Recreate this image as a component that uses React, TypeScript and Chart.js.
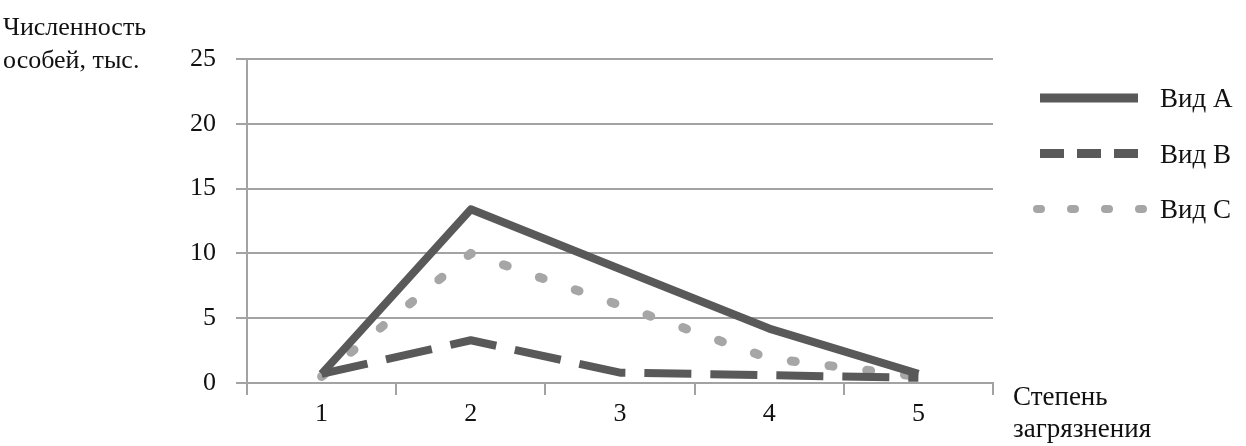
import React, { useEffect, useRef } from "react";
import { Chart, registerables } from "chart.js";

Chart.register(...registerables);

const categories = ["1", "2", "3", "4", "5"];
const seriesNames = ["Вид A", "Вид B", "Вид C"];
const valuesA = [0.7, 13.4, 8.8, 4.2, 0.7];
const valuesB = [0.7, 3.3, 0.8, 0.6, 0.4];
const valuesC = [0.5, 10.0, 6.0, 1.9, 0.5];
const yMin = 0;
const yMax = 25;
const yStep = 5;
const yTitleLines = ["Численность", "особей, тыс."];
const xTitleLines = ["Степень", "загрязнения"];

const FONT = '"Liberation Serif", "Times New Roman", serif';
const TEXT_COLOR = "#111111";
const GRID_COLOR = "#a3a3a3";
const DARK = "#595959";
const LIGHT = "#a6a6a6";

const titlesAndLegend = {
  id: "titlesAndLegend",
  afterDraw(chart: any) {
    const ctx = chart.ctx as CanvasRenderingContext2D;
    ctx.save();
    ctx.fillStyle = TEXT_COLOR;
    ctx.font = `26px ${FONT}`;
    ctx.textAlign = "left";
    ctx.textBaseline = "alphabetic";
    // y axis title
    yTitleLines.forEach((t, i) => ctx.fillText(t, 3, 35 + i * 33));
    // x axis title
    ctx.font = `27px ${FONT}`;
    xTitleLines.forEach((t, i) => ctx.fillText(t, 1013, 405 + i * 32));

    // legend
    const legendStyles = [
      { dash: [] as number[], cap: "butt" as CanvasLineCap, width: 9, x0: 1040, x1: 1138 },
      { dash: [24, 13], cap: "butt" as CanvasLineCap, width: 9, x0: 1040, x1: 1138 },
      { dash: [4, 30], cap: "round" as CanvasLineCap, width: 8, x0: 1037, x1: 1145 },
    ];
    chart.data.datasets.forEach((ds: any, i: number) => {
      const y = 98 + i * 55.5;
      const st = legendStyles[i];
      ctx.beginPath();
      ctx.strokeStyle = ds.borderColor;
      ctx.lineWidth = st.width;
      ctx.lineCap = st.cap;
      ctx.setLineDash(st.dash);
      ctx.moveTo(st.x0, y);
      ctx.lineTo(st.x1, y);
      ctx.stroke();
      ctx.setLineDash([]);
      ctx.fillStyle = TEXT_COLOR;
      ctx.font = `27px ${FONT}`;
      ctx.fillText(ds.label, 1160, y + 9);
    });
    ctx.restore();
  },
};

export default function App() {
  const canvasRef = useRef<HTMLCanvasElement | null>(null);

  useEffect(() => {
    if (!canvasRef.current) return;
    Chart.defaults.font.family = FONT;
    const chart = new Chart(canvasRef.current, {
      type: "line",
      data: {
        labels: categories,
        datasets: [
          {
            label: seriesNames[0],
            data: valuesA,
            borderColor: DARK,
            borderWidth: 8,
            borderJoinStyle: "round",
            borderCapStyle: "butt",
            pointRadius: 0,
            tension: 0,
          },
          {
            label: seriesNames[1],
            data: valuesB,
            borderColor: DARK,
            borderWidth: 8,
            borderDash: [47, 19],
            borderCapStyle: "butt",
            borderJoinStyle: "round",
            pointRadius: 0,
            tension: 0,
          },
          {
            label: seriesNames[2],
            data: valuesC,
            borderColor: LIGHT,
            borderWidth: 9,
            borderDash: [4, 34],
            borderCapStyle: "round",
            borderJoinStyle: "round",
            pointRadius: 0,
            tension: 0,
          },
        ],
      },
      options: {
        animation: false,
        responsive: false,
        maintainAspectRatio: false,
        layout: { padding: { left: 180, right: 253, top: 59, bottom: 13 } },
        plugins: {
          legend: { display: false },
          tooltip: { enabled: false },
          title: { display: false },
        },
        scales: {
          x: {
            type: "category",
            offset: true,
            afterFit: (scale: any) => {
              scale.height = 50;
            },
            grid: {
              offset: true,
              drawOnChartArea: false,
              drawTicks: true,
              tickLength: 12,
              color: GRID_COLOR,
              lineWidth: 2,
            },
            border: { display: true, color: GRID_COLOR, width: 2 },
            ticks: {
              color: TEXT_COLOR,
              font: { size: 26, family: FONT },
              padding: 4,
              maxRotation: 0,
            },
          },
          y: {
            min: yMin,
            max: yMax,
            afterFit: (scale: any) => {
              scale.width = 67;
            },
            grid: {
              drawTicks: true,
              tickLength: 11,
              color: GRID_COLOR,
              lineWidth: 2,
            },
            border: { display: true, color: GRID_COLOR, width: 2 },
            ticks: {
              stepSize: yStep,
              color: TEXT_COLOR,
              font: { size: 26, family: FONT },
              padding: 20,
            },
          },
        },
      },
      plugins: [titlesAndLegend],
    });
    return () => chart.destroy();
  }, []);

  return (
    <div style={{ position: "fixed", left: 0, top: 0, width: 1246, height: 446, background: "#fff" }}>
      <canvas ref={canvasRef} width={1246} height={446} style={{ width: 1246, height: 446, display: "block" }} />
    </div>
  );
}
